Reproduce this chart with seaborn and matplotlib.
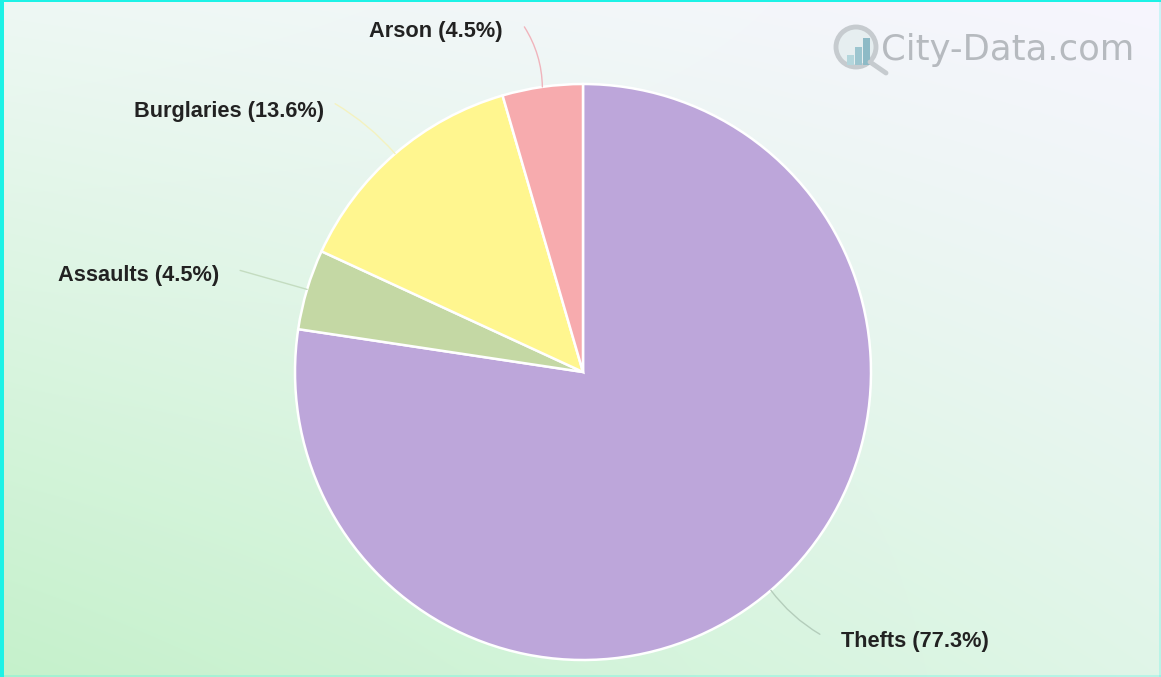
import numpy as np
import matplotlib
matplotlib.use("Agg")
import matplotlib.pyplot as plt
from matplotlib.patches import Circle, Rectangle
import seaborn as sns

# Crime shares shown in the pie, clockwise from twelve o'clock
crime_types = ["Thefts", "Assaults", "Burglaries", "Arson"]
crime_shares = [77.3, 4.5, 13.6, 4.5]
slice_colors = ["#bda6da", "#c4d8a4", "#fff68f", "#f7abae"]
leader_colors = ["#b4cdbb", "#c4dcc0", "#f4f2c0", "#f0b4bc"]

W, H = 1161, 677
sns.set_theme(style="white")
plt.rcParams["font.family"] = ["Liberation Sans", "DejaVu Sans"]

fig = plt.figure(figsize=(W / 100, H / 100), dpi=100)

# Page background: soft wash blended between four corner tints
bg = fig.add_axes([0, 0, 1, 1], zorder=0)
bg.set_axis_off()
xx, yy = np.meshgrid(np.linspace(0, 1, 256), np.linspace(0, 1, 256))
xx, yy = xx[..., None], yy[..., None]
bottom_left = np.array([197, 241, 203]) / 255
bottom_right = np.array([224, 246, 232]) / 255
top_left = np.array([238, 248, 244]) / 255
top_right = np.array([247, 245, 254]) / 255
wash = ((1 - xx) * (1 - yy) * bottom_left + xx * (1 - yy) * bottom_right
        + (1 - xx) * yy * top_left + xx * yy * top_right)
bg.imshow(wash, origin="lower", extent=[0, 1, 0, 1], aspect="auto",
          interpolation="bilinear")

# Pie axes: unit radius maps to 288 px around the centre at (583, 372)
cx, cy, r = 583, 372, 288
ax = fig.add_axes([(cx - r) / W, (H - cy - r) / H, 2 * r / W, 2 * r / H], zorder=1)
wedges, _ = ax.pie(
    crime_shares, colors=slice_colors, startangle=90, counterclock=False,
    radius=1, wedgeprops={"edgecolor": "white", "linewidth": 1.8},
)
ax.set_xlim(-1, 1)
ax.set_ylim(-1, 1)

# Label text anchors as pixel offsets from each slice's outer midpoint
label_offsets = [(70, -51, "left", "center"), (-88, 14, "right", "center"),
                 (-71, 42, "right", "center"), (-40, 55, "right", "center")]
leader_ends = [(49, -44), (-67, 19), (-60, 50), (-18, 60)]
leader_bends = [-0.1, 0.0, -0.08, -0.14]

to_figure = fig.transFigure.inverted().transform
for wedge, name, share, offs, end, bend, lc in zip(
        wedges, crime_types, crime_shares, label_offsets, leader_ends,
        leader_bends, leader_colors):
    mid = np.deg2rad((wedge.theta1 + wedge.theta2) / 2)
    anchor = (np.cos(mid), np.sin(mid))
    x_px, y_px = ax.transData.transform(anchor)
    # leader line from the slice edge out to the label
    ax.annotate(
        "", xy=anchor, xycoords="data",
        xytext=to_figure((x_px + end[0], y_px + end[1])),
        textcoords="figure fraction",
        arrowprops=dict(arrowstyle="-", color=lc, lw=1.0,
                        connectionstyle=f"arc3,rad={bend}", shrinkA=0, shrinkB=0),
        annotation_clip=False,
    )
    tx, ty = to_figure((x_px + offs[0], y_px + offs[1]))
    fig.text(tx, ty, f"{name} ({share}%)", ha=offs[2], va=offs[3],
             fontsize=15.7, fontweight="bold", color="#222222", zorder=5)

# Site watermark: magnifier with small bars, then the wordmark
overlay = fig.add_axes([0, 0, 1, 1], zorder=2)
overlay.set_axis_off()
overlay.set_xlim(0, W)
overlay.set_ylim(H, 0)
overlay.patch.set_alpha(0)
overlay.add_patch(Circle((856, 47), 20, fc="#e6eef0", ec="#c6cbcf", lw=3.5))
for bx, btop, bc in [(847, 55, "#b4d6dc"), (855, 47, "#9cc5cf"), (863, 38, "#8dbac6")]:
    overlay.add_patch(Rectangle((bx, btop), 7, 65 - btop, color=bc, lw=0))
overlay.plot([870, 886], [62, 73], color="#c6cbcf", lw=3.5, solid_capstyle="round")
overlay.text(881, 50, "City-Data.com", fontsize=25.5, color="#b6babf",
             family="DejaVu Sans", ha="left", va="center")

# Bright frame on the left and top edges, a faint one on the others
overlay.add_patch(Rectangle((0, 0), 3.5, H, color="#1df2e6", lw=0))
overlay.add_patch(Rectangle((0, 0), W, 2, color="#1df2e6", lw=0))
overlay.add_patch(Rectangle((W - 2, 0), 2, H, color="#1df2e6", lw=0, alpha=0.2))
overlay.add_patch(Rectangle((0, H - 2), W, 2, color="#1df2e6", lw=0, alpha=0.2))

fig.savefig("out.png", dpi=100)
